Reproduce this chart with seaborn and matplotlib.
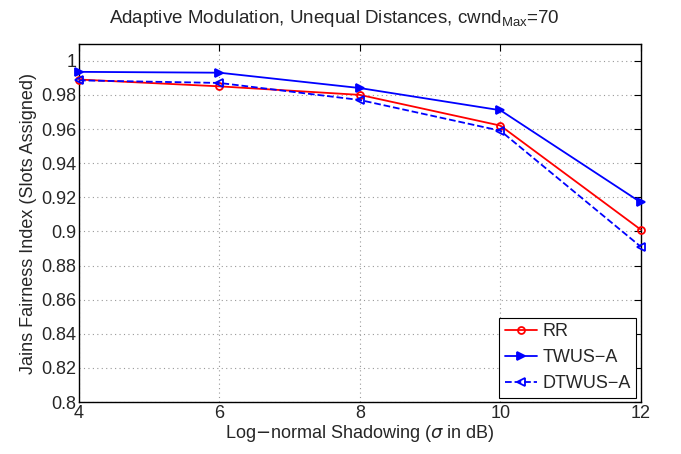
import pandas as pd
import numpy as np
import matplotlib
matplotlib.use('Agg')
import matplotlib.pyplot as plt
import seaborn as sns

# Data
shadowing = [4, 6, 8, 10, 12]
rr = [0.989, 0.985, 0.980, 0.962, 0.901]
twus_a = [0.9935, 0.993, 0.984, 0.971, 0.917]
dtwus_a = [0.9885, 0.987, 0.977, 0.959, 0.891]
series_names = ['RR', 'TWUS-A', 'DTWUS-A']
y_ticks = [0.8, 0.82, 0.84, 0.86, 0.88, 0.9, 0.92, 0.94, 0.96, 0.98, 1]

df = pd.DataFrame({
    'sigma': shadowing * 3,
    'fairness': rr + twus_a + dtwus_a,
    'scheme': [n for n in series_names for _ in shadowing],
})

sns.set_style('white')
plt.rcParams['font.family'] = ['Liberation Sans', 'DejaVu Sans']

fig = plt.figure(figsize=(6.81, 4.54), dpi=100)
ax = fig.add_axes([0.116, 0.1145, 0.825, 0.7885])

styles = {
    'RR': dict(color='red', marker='o', linestyle='-', mfc='none', ms=5),
    'TWUS-A': dict(color='blue', marker='>', linestyle='-', mfc='blue', ms=6),
    'DTWUS-A': dict(color='blue', marker='<', linestyle='--', mfc='none', ms=6),
}

for name in series_names:
    st = styles[name]
    sub = df[df['scheme'] == name]
    sns.lineplot(data=sub, x='sigma', y='fairness', ax=ax, label=name,
                 color=st['color'], marker=st['marker'], linestyle=st['linestyle'],
                 markersize=st['ms'], markerfacecolor=st['mfc'],
                 markeredgecolor=st['color'], markeredgewidth=1.3, linewidth=1.3,
                 clip_on=False, zorder=3)

ax.set_xlim(4, 12)
ax.set_ylim(0.8, 1.0098)
ax.set_xticks(shadowing)
ax.set_yticks(y_ticks)
ax.set_yticklabels(['0.8', '0.82', '0.84', '0.86', '0.88', '0.9', '0.92',
                    '0.94', '0.96', '0.98', '1'])
ax.tick_params(direction='in', length=5, labelsize=13, top=True, right=True,
               color='black', width=0.8, pad=2)
ax.grid(True, linestyle=(0, (1, 3)), color='#999999', linewidth=0.8)
for s in ax.spines.values():
    s.set_color('black')
    s.set_linewidth(1.0)

ax.set_xlabel(r'Log$-$normal Shadowing ($\sigma$ in dB)', fontsize=13, labelpad=1)
ax.set_ylabel('Jains Fairness Index (Slots Assigned)', fontsize=13, labelpad=3)
ax.set_title(r'Adaptive Modulation, Unequal Distances, cwnd$_{\mathregular{Max}}$=70',
             fontsize=13.5, pad=15, x=0.455)

leg = ax.legend(loc='lower right', fontsize=13, frameon=True, fancybox=False,
                handlelength=1.8, borderaxespad=0.25, labelspacing=0.5,
                borderpad=0.3, handletextpad=0.3, framealpha=1)
leg.get_frame().set_edgecolor('black')
leg.get_frame().set_linewidth(0.8)
for t in leg.get_texts():
    t.set_text(t.get_text().replace('-', '\u2212'))

fig.savefig('out.png', dpi=100)
